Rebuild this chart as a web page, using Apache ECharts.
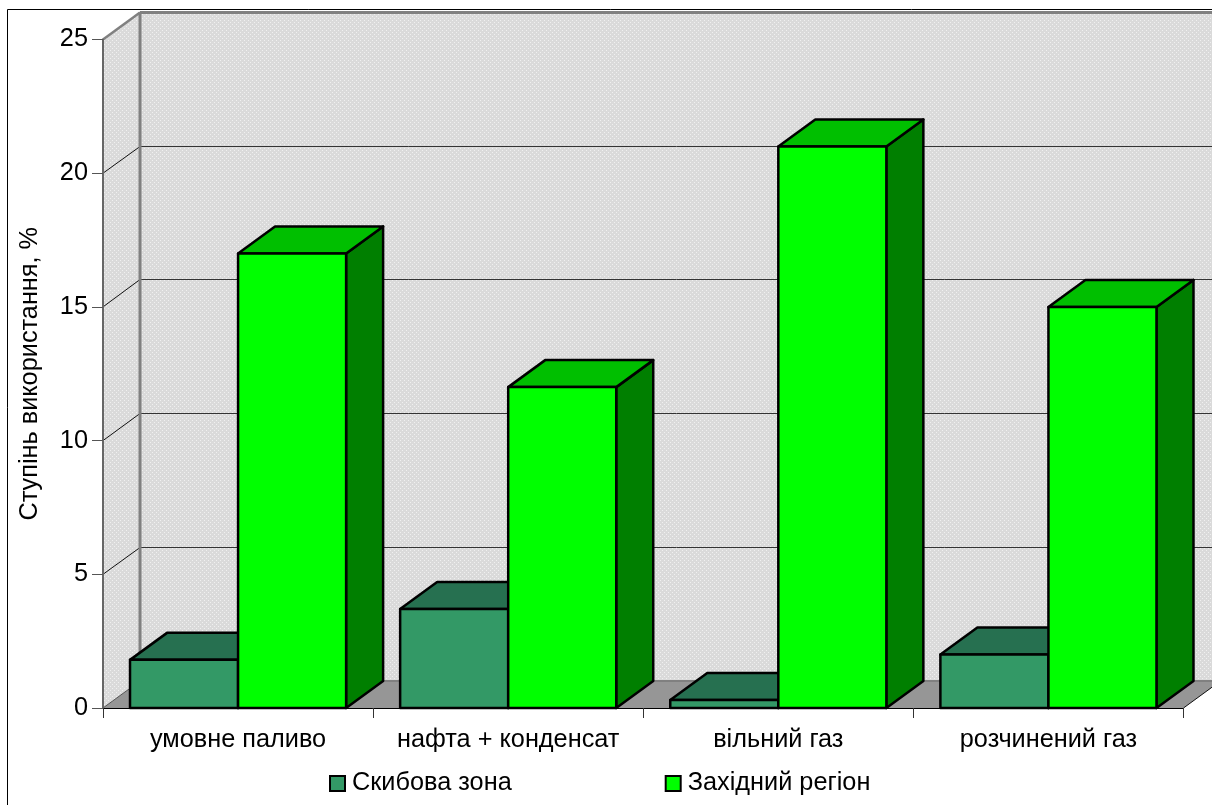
<!DOCTYPE html>
<html>
<head>
<meta charset="utf-8">
<style>html,body{margin:0;padding:0;background:#fff;overflow:hidden}#chart{width:1212px;height:805px}</style>
<script src="https://cdn.jsdelivr.net/npm/echarts@6/dist/echarts.min.js"></script>
</head>
<body>
<div id="chart"></div>
<script>
const categories = ['умовне паливо', 'нафта + конденсат', 'вільний газ', 'розчинений газ'];
const skybovaZona = [1.8, 3.7, 0.3, 2.0];
const zakhidnyiRehion = [17, 12, 21, 15];
const gridValues = [5, 10, 15, 20];
const axisMax = 25;
const seriesNames = ['Скибова зона', 'Західний регіон'];

const FONT = '"Liberation Sans", Arial, sans-serif';
const FONT_SIZE = 25.3;
const DEPTH_X = 37, DEPTH_Y = -27;

// Stippled fill of the chart walls
const stipple = document.createElement('canvas');
stipple.width = stipple.height = 4;
{
  const c = stipple.getContext('2d');
  c.fillStyle = '#dadada';
  c.fillRect(0, 0, 4, 4);
  c.fillStyle = '#f0f0f0';
  c.fillRect(0, 0, 1, 1);
  c.fillRect(2, 2, 1, 1);
}
const wallFill = { image: stipple, repeat: 'repeat' };

// Walls, floor and gridlines of the 3D box
function renderBox(params, api) {
  const band = api.size([1, 0])[0];
  const x0 = api.coord([0, 0])[0] - band / 2;
  const y0 = api.coord([0, 0])[1];
  const yTop = api.coord([0, axisMax])[1];
  const x1 = x0 + band * categories.length;
  const poly = (points, style) => ({ type: 'polygon', shape: { points }, style });
  const line = (a, b, stroke, lineWidth) => ({
    type: 'polyline', shape: { points: [a, b] }, style: { stroke, lineWidth, fill: null }
  });
  const bx0 = x0 + DEPTH_X, dy = DEPTH_Y;
  const children = [
    poly([[bx0, yTop + dy], [x1 + DEPTH_X, yTop + dy], [x1 + DEPTH_X, y0 + dy], [bx0, y0 + dy]], { fill: wallFill }),
    poly([[x0, yTop], [bx0, yTop + dy], [bx0, y0 + dy], [x0, y0]], { fill: wallFill }),
    poly([[x0, y0], [bx0, y0 + dy], [x1 + DEPTH_X, y0 + dy], [x1, y0]], { fill: '#969696', lineWidth: 0 })
  ];
  gridValues.forEach(v => {
    const y = api.coord([0, v])[1];
    // snap the back-wall rule to a whole pixel row so it stays crisp
    const backY = Math.floor(y + dy) + 0.5;
    children.push(line([x0, y], [bx0, backY], '#111', 1));
    children.push(line([bx0, backY], [x1 + DEPTH_X, backY], '#333', 1));
  });
  children.push(line([bx0, yTop + dy], [bx0, y0 + dy], '#808080', 3));
  children.push(line([x0, yTop], [bx0, yTop + dy], '#808080', 2.5));
  children.push(line([bx0, yTop + dy], [x1 + DEPTH_X, yTop + dy], '#808080', 3));
  children.push(line([bx0, y0 + dy], [x1 + DEPTH_X, y0 + dy], '#808080', 2));
  children.push(line([x0, y0], [bx0, y0 + dy], '#555', 1));
  children.push(line([x1, y0], [x1 + DEPTH_X, y0 + dy], '#111', 1));
  return { type: 'group', children };
}

// One extruded bar: front, top and side faces
function barRenderer(seriesIndex, front, top, side) {
  return function (params, api) {
    const cat = api.value(0), val = api.value(1);
    const band = api.size([1, 0])[0];
    const w = band * 0.4;
    const [cx, yv] = api.coord([cat, val]);
    const y0 = api.coord([cat, 0])[1];
    const l = cx - w + seriesIndex * w, r = l + w;
    const edge = { stroke: '#000', lineWidth: 2.5, lineJoin: 'round' };
    const dx = DEPTH_X, dy = DEPTH_Y;
    return {
      type: 'group',
      children: [
        { type: 'polygon', shape: { points: [[r, yv], [r + dx, yv + dy], [r + dx, y0 + dy], [r, y0]] }, style: { fill: side, ...edge } },
        { type: 'polygon', shape: { points: [[l, yv], [l + dx, yv + dy], [r + dx, yv + dy], [r, yv]] }, style: { fill: top, ...edge } },
        { type: 'rect', shape: { x: l, y: yv, width: w, height: y0 - yv }, style: { fill: front, ...edge } }
      ]
    };
  };
}

const chart = echarts.init(document.getElementById('chart'), null, { renderer: 'canvas' });
chart.setOption({
  animation: false,
  backgroundColor: '#fff',
  textStyle: { fontFamily: FONT },
  grid: { left: 103, top: 39.5, width: 1080.5, height: 668.5, containLabel: false },
  graphic: [{
    type: 'rect', z: 100, silent: true,
    shape: { x: 7.5, y: 9.5, width: 1300, height: 900 },
    style: { fill: null, stroke: '#000', lineWidth: 1 }
  }],
  legend: {
    left: 324, top: 766, itemWidth: 15, itemHeight: 15, itemGap: 153,
    data: seriesNames,
    selectedMode: false,
    icon: 'rect',
    textStyle: { fontFamily: FONT, fontSize: FONT_SIZE, color: '#000', padding: [0, 0, 0, 2] }
  },
  xAxis: {
    type: 'category',
    data: categories,
    z: 3,
    axisLine: { lineStyle: { color: '#000', width: 1 } },
    axisTick: { show: true, length: 10, alignWithLabel: false, lineStyle: { color: '#333', width: 1 } },
    axisLabel: { fontFamily: FONT, fontSize: FONT_SIZE, color: '#000', margin: 20, interval: 0 },
    splitLine: { show: false }
  },
  yAxis: {
    type: 'value', min: 0, max: axisMax, interval: 5,
    name: 'Ступінь використання, %',
    nameLocation: 'middle', nameGap: 60,
    nameTextStyle: { fontFamily: FONT, fontSize: FONT_SIZE, color: '#000' },
    z: 3,
    axisLine: { show: true, lineStyle: { color: '#666', width: 2 } },
    axisTick: { show: true, length: 11, lineStyle: { color: '#555', width: 1 } },
    axisLabel: { fontFamily: FONT, fontSize: FONT_SIZE, color: '#000', margin: 15, padding: [6, 0, 0, 0] },
    splitLine: { show: false }
  },
  series: [
    {
      type: 'custom', silent: true, z: 1, clip: false, renderItem: renderBox,
      data: [[0, 0]], encode: { x: 0, y: 1 }, tooltip: { show: false }
    },
    {
      name: seriesNames[0], type: 'custom', z: 2, clip: false,
      renderItem: barRenderer(0, '#339966', '#267050', '#267050'),
      itemStyle: { color: '#339966', borderColor: '#000', borderWidth: 2 },
      data: skybovaZona.map((v, i) => [i, v]), encode: { x: 0, y: 1 }
    },
    {
      name: seriesNames[1], type: 'custom', z: 2, clip: false,
      renderItem: barRenderer(1, '#00ff00', '#00bf00', '#007f00'),
      itemStyle: { color: '#00ff00', borderColor: '#000', borderWidth: 2 },
      data: zakhidnyiRehion.map((v, i) => [i, v]), encode: { x: 0, y: 1 }
    }
  ]
});
</script>
</body>
</html>
